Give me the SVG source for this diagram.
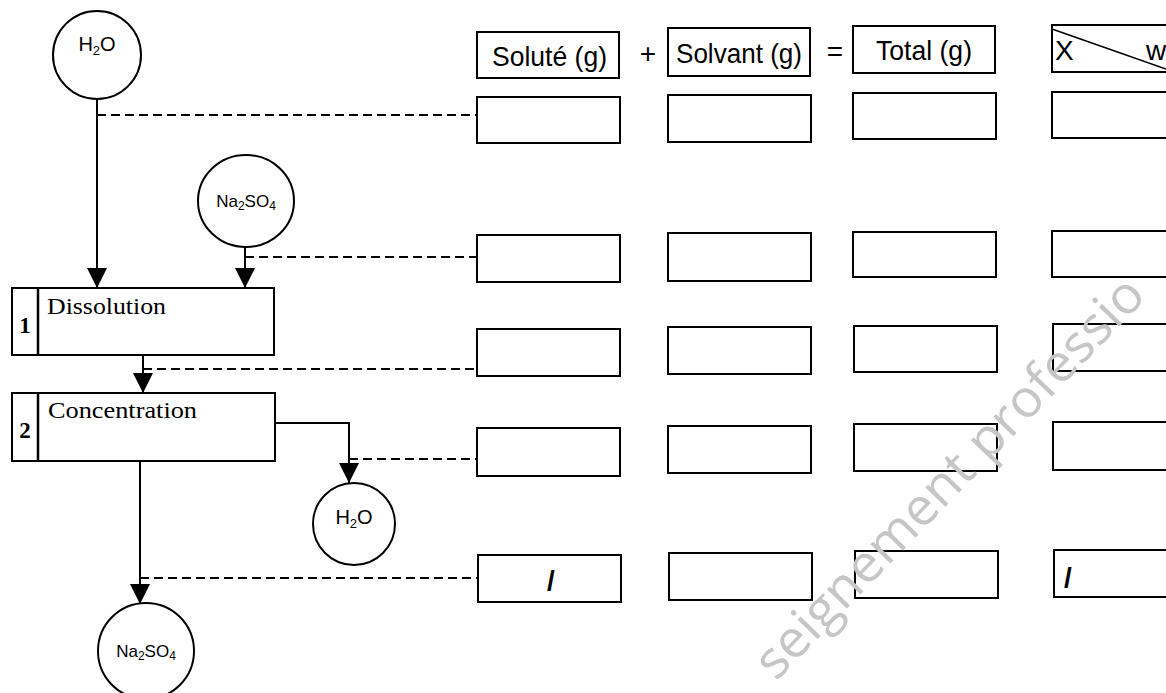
<svg xmlns="http://www.w3.org/2000/svg" width="1166" height="693" viewBox="0 0 1166 693">
<defs>
<style>
.nd{fill:#fff;stroke:#000;stroke-width:2}
.cell{fill:#fff;stroke:#000;stroke-width:2}
.flow{fill:none;stroke:#000;stroke-width:2}
.dash{fill:none;stroke:#000;stroke-width:1.8;stroke-dasharray:9 5}
.chem{font-family:"Liberation Sans",Arial,sans-serif;fill:#000;text-anchor:middle}
.hdr{font-family:"Liberation Sans",Arial,sans-serif;font-size:28px;fill:#000}
.proc{font-family:"Liberation Serif","Times New Roman",serif;font-size:24px;fill:#000}
.num{font-family:"Liberation Serif","Times New Roman",serif;font-size:23px;font-weight:bold;fill:#000;text-anchor:middle}
.wm{font-family:"Open Sans",Lato,sans-serif;font-size:52px;fill:#c6c6c6}
</style>
<marker id="ah" markerUnits="userSpaceOnUse" markerWidth="20" markerHeight="20" refX="20" refY="10" orient="auto">
<path d="M0,0 L20,10 L0,20 z" fill="#000"/>
</marker>
</defs>
<rect width="1166" height="693" fill="#fff"/>

<g id="connectors">
<path class="flow" d="M97,99 V288" marker-end="url(#ah)"/>
<path class="flow" d="M245,247 V288" marker-end="url(#ah)"/>
<path class="flow" d="M143,355 V393" marker-end="url(#ah)"/>
<path class="flow" d="M275,423 H349 V483" marker-end="url(#ah)"/>
<path class="flow" d="M140,461 V604" marker-end="url(#ah)"/>
<path class="dash" d="M97,115 H477"/>
<path class="dash" d="M245,257 H477"/>
<path class="dash" d="M143,369 H477"/>
<path class="dash" d="M349,459 H477"/>
<path class="dash" d="M140,578 H478"/>
</g>

<g id="h2o-in">
<circle class="nd" cx="97" cy="55" r="44"/>
<text class="chem" x="97" y="51" font-size="20">H<tspan font-size="13" dy="4">2</tspan><tspan dy="-4">O</tspan></text>
</g>
<g id="na2so4-in">
<ellipse class="nd" cx="246" cy="201" rx="48" ry="46"/>
<text class="chem" x="246" y="207" font-size="17">Na<tspan font-size="12" dy="3">2</tspan><tspan dy="-3">SO</tspan><tspan font-size="12" dy="3">4</tspan></text>
</g>
<g id="dissolution">
<rect class="nd" x="12" y="288" width="262" height="67"/>
<line x1="38" y1="288" x2="38" y2="355" stroke="#000" stroke-width="2.5"/>
<text class="num" x="25" y="333">1</text>
<text class="proc" x="47" y="314" textLength="119" lengthAdjust="spacingAndGlyphs">Dissolution</text>
</g>
<g id="concentration">
<rect class="nd" x="12" y="393" width="263" height="68"/>
<line x1="38" y1="393" x2="38" y2="461" stroke="#000" stroke-width="2.5"/>
<text class="num" x="25" y="438">2</text>
<text class="proc" x="48" y="418" textLength="149" lengthAdjust="spacingAndGlyphs">Concentration</text>
</g>
<g id="h2o-out">
<circle class="nd" cx="354" cy="524" r="41"/>
<text class="chem" x="354" y="524" font-size="20">H<tspan font-size="13" dy="4">2</tspan><tspan dy="-4">O</tspan></text>
</g>
<g id="na2so4-out">
<circle class="nd" cx="146" cy="651" r="48"/>
<text class="chem" x="146" y="657" font-size="17">Na<tspan font-size="12" dy="3">2</tspan><tspan dy="-3">SO</tspan><tspan font-size="12" dy="3">4</tspan></text>
</g>

<g id="header">
<rect class="cell" x="477" y="32" width="142" height="46"/>
<text class="hdr" x="492" y="66" textLength="115" lengthAdjust="spacingAndGlyphs">Soluté (g)</text>
<text class="hdr" x="648" y="63" font-size="26" text-anchor="middle">+</text>
<rect class="cell" x="668" y="28" width="142" height="48"/>
<text class="hdr" x="676" y="63" textLength="126" lengthAdjust="spacingAndGlyphs">Solvant (g)</text>
<text class="hdr" x="835" y="61" font-size="26" text-anchor="middle">=</text>
<rect class="cell" x="853" y="26" width="142" height="47"/>
<text class="hdr" x="876" y="60" textLength="96" lengthAdjust="spacingAndGlyphs">Total (g)</text>
<rect class="cell" x="1052" y="25" width="130" height="47"/>
<line x1="1052" y1="29" x2="1166" y2="69" stroke="#000" stroke-width="1.6"/>
<text class="hdr" x="1055" y="60">X</text>
<text class="hdr" x="1146" y="60">w</text>
</g>

<g id="row1">
<rect class="cell" x="477" y="97" width="143" height="46"/>
<rect class="cell" x="668" y="95" width="143" height="47"/>
<rect class="cell" x="853" y="93" width="143" height="46"/>
<rect class="cell" x="1052" y="92" width="130" height="46"/>
</g>
<g id="row2">
<rect class="cell" x="477" y="235" width="143" height="47"/>
<rect class="cell" x="668" y="233" width="143" height="48"/>
<rect class="cell" x="853" y="232" width="143" height="45"/>
<rect class="cell" x="1052" y="231" width="130" height="46"/>
</g>
<g id="row3">
<rect class="cell" x="477" y="329" width="143" height="47"/>
<rect class="cell" x="668" y="327" width="143" height="47"/>
<rect class="cell" x="854" y="326" width="143" height="46"/>
<rect class="cell" x="1053" y="324" width="130" height="47"/>
</g>
<g id="row4">
<rect class="cell" x="477" y="428" width="143" height="48"/>
<rect class="cell" x="668" y="426" width="143" height="47"/>
<rect class="cell" x="854" y="424" width="143" height="47"/>
<rect class="cell" x="1053" y="422" width="130" height="48"/>
</g>
<g id="row5">
<rect class="cell" x="478" y="555" width="143" height="47"/>
<text class="hdr" x="551" y="590" text-anchor="middle" font-size="26" font-weight="bold">/</text>
<rect class="cell" x="669" y="553" width="143" height="47"/>
<rect class="cell" x="855" y="551" width="143" height="47"/>
<rect class="cell" x="1054" y="550" width="130" height="47"/>
<text class="hdr" x="1068" y="587" text-anchor="middle" font-size="26" font-weight="bold">/</text>
</g>

<text class="wm" x="776" y="682" transform="rotate(-46 776 682)" textLength="535" lengthAdjust="spacingAndGlyphs">seignement professio</text>
</svg>
